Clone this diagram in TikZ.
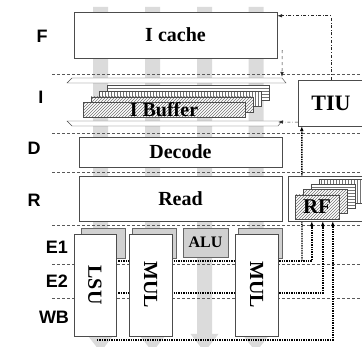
\documentclass[tikz,border=0pt]{standalone}
\usepackage{fontspec}
\setmainfont{Liberation Serif}
\setsansfont{Liberation Sans}
\usetikzlibrary{arrows.meta,patterns,calc,backgrounds}

\begin{document}
\begin{tikzpicture}[x=1pt,y=-1pt,
  unit/.style={rectangle,draw=black!70,fill=white,inner sep=0pt,font=\fontsize{20}{22}\selectfont\bfseries},
  latchbox/.style={rectangle,draw=black!60,fill=black!18,inner sep=0pt,minimum width=44pt,minimum height=30pt},
  layer/.style={rectangle,draw=black!70,preaction={fill=white},pattern color=black!55,inner sep=0pt},
  stagelbl/.style={font=\sffamily\fontsize{18}{20}\selectfont\bfseries},
  sep/.style={densely dashed,black!65,thin},
  fwd/.style={densely dotted,line width=1.4pt,-{Latex[length=5pt,width=4pt]}},
  ctl/.style={dash dot,black!85,line width=0.6pt,-{Latex[length=5pt,width=3.5pt]}}]
\useasboundingbox (0,0) rectangle (362,347);

% stage names
\node[stagelbl] at (42,36) {F};
\node[stagelbl] at (41,97) {I};
\node[stagelbl] at (34,148) {D};
\node[stagelbl] at (34,200) {R};
\node[stagelbl] at (57,247) {E1};
\node[stagelbl] at (57,281) {E2};
\node[stagelbl] at (54,317) {WB};

% fetch / issue
\node[unit,minimum width=203pt,minimum height=46pt] (icache) at (175.5,35) {I cache};
\draw[draw=black!70,fill=white] (72,78) -- (282,78) -- (286,83) -- (67,83) -- cycle;
\foreach \k/\pat in {3/horizontal lines,2/vertical lines,1/north east lines} {
    \node[layer,pattern=\pat,minimum width=162pt,minimum height=15pt] at ({164+8*\k},{110-5.7*\k}) {};
}
\node[layer,pattern=north east lines,minimum width=162pt,minimum height=15pt,font=\fontsize{20}{22}\selectfont\bfseries] (ibuf) at (164,110) {I Buffer};
\draw[draw=black!70,fill=white] (67,121) -- (282,121) -- (278,126) -- (72,126) -- cycle;
\node[unit,minimum width=66pt,minimum height=46pt,font=\fontsize{22}{24}\selectfont\bfseries] (tiu) at (331,103) {TIU};

% decode / read
\node[unit,minimum width=203pt,minimum height=30pt] (decode) at (180.5,152) {Decode};
\node[unit,minimum width=203pt,minimum height=45pt] (read) at (180.5,198.5) {Read};
\node[unit,minimum width=78pt,minimum height=45pt] (rfbox) at (327,198.5) {};
\foreach \k/\pat in {3/vertical lines,2/horizontal lines,1/north east lines} {
    \node[layer,pattern=\pat,minimum width=44pt,minimum height=24pt] at ({317+8*\k},{207-5.3*\k}) {};
}
\node[layer,pattern=north east lines,minimum width=44pt,minimum height=24pt,font=\fontsize{21}{23}\selectfont\bfseries] (rf) at (317,207) {RF};

% execute units
\node[latchbox] (lsulatch) at (103.5,243) {};
\node[latchbox] (mullatchA) at (154,243) {};
\node[latchbox,minimum width=45pt,minimum height=29pt,font=\fontsize{16}{18}\selectfont\bfseries] (alu) at (205.5,242.5) {ALU};
\node[latchbox] (mullatchB) at (260,243) {};
\node[unit,minimum width=42pt,minimum height=102pt] (lsu) at (95,285) {};
\node[rotate=-90,font=\fontsize{20}{22}\selectfont\bfseries] at (lsu) {LSU};
\node[unit,minimum width=43pt,minimum height=102pt] (mulA) at (150.5,285) {};
\node[rotate=-90,font=\fontsize{20}{22}\selectfont\bfseries] at (mulA) {MUL};
\node[unit,minimum width=43pt,minimum height=102pt] (mulB) at (256.5,285) {};
\node[rotate=-90,font=\fontsize{20}{22}\selectfont\bfseries] at (mulB) {MUL};

% control paths
\draw[ctl] (tiu.north) |- ($(icache.north east)+(0,4)$);
\draw[ctl,dashed] ($(icache.south east)+(5,-8)$) -- (282,77);
\draw[ctl] ($(tiu.south west)+(0,-4)$) -- (278,122);

\begin{pgfonlayer}{background}
% pipeline flow columns
\foreach \cx in {100.5,152.5,204.5,256} {
    \fill[black!14] ({\cx-7.5},7) -- ({\cx+7.5},7) -- ({\cx+7.5},334) -- ({\cx+14},334)
        -- (\cx,352) -- ({\cx-14},334) -- ({\cx-7.5},334) -- cycle;
}
\foreach \y in {74,133,172,225,264,298} {
    \draw[sep] (52,\y) -- (362,\y);
}
% forwarding
\coordinate (e1out) at (116,261);
\coordinate (e1tap) at (302,261);
\coordinate (e2out) at (116,293);
\coordinate (wbout) at (97,340);
\draw[fwd] (e1out) -| ($(rfbox.south west)+(24,0)$);
\draw[fwd] (e1tap) -- ($(tiu.south west)+(4,0)$);
\draw[fwd] (e2out) -| ($(rfbox.south west)+(35,0)$);
\draw[fwd] (wbout) -| ($(rfbox.south west)+(45,0)$);
\end{pgfonlayer}
\end{tikzpicture}
\end{document}
